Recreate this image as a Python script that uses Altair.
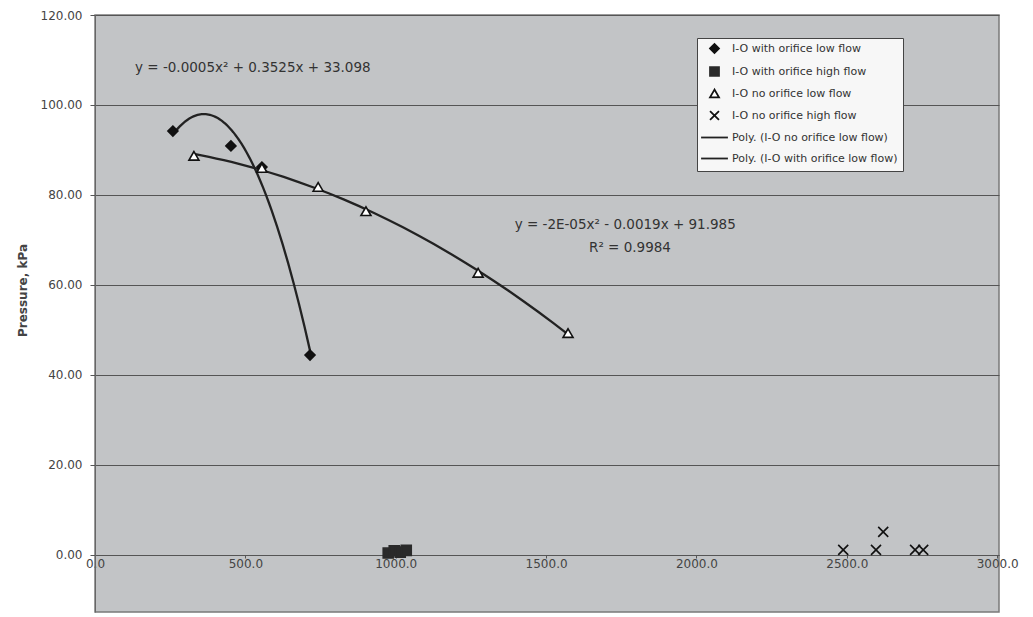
import altair as alt
import pandas as pd

# ---- data ----
series_names = [
    "I-O with orifice low flow",
    "I-O with orifice high flow",
    "I-O no orifice low flow",
    "I-O no orifice high flow",
    "Poly. (I-O no orifice low flow)",
    "Poly. (I-O with orifice low flow)",
]

wo_low_x = [259, 452, 555, 715]
wo_low_y = [94.2, 90.9, 86.2, 44.4]

wo_high_x = [975, 995, 1015, 1035]
wo_high_y = [0.4, 0.9, 0.6, 1.0]

no_low_x = [329, 555, 742, 901, 1274, 1573]
no_low_y = [88.7, 86.0, 81.8, 76.4, 62.7, 49.3]

no_high_x = [2488, 2597, 2621, 2727, 2754]
no_high_y = [1.1, 1.1, 5.1, 1.1, 1.1]

x_ticks = [0, 500, 1000, 1500, 2000, 2500, 3000]
y_ticks = [0, 20, 40, 60, 80, 100, 120]

eq_texts = ["y = -0.0005x\u00b2 + 0.3525x + 33.098",
            "y = -2E-05x\u00b2 - 0.0019x + 91.985",
            "R\u00b2 = 0.9984"]
eq_x = [133, 1763, 1779]
eq_y = [108.2, 73.3, 68.2]
eq_align = ["left", "center", "center"]

# ---- build table ----
rows = []
for name, xs, ys in [
    (series_names[0], wo_low_x, wo_low_y),
    (series_names[1], wo_high_x, wo_high_y),
    (series_names[2], no_low_x, no_low_y),
    (series_names[3], no_high_x, no_high_y),
]:
    for xv, yv in zip(xs, ys):
        rows.append({"series": name, "x": xv, "y": yv})
df = pd.DataFrame(rows)

ann = pd.DataFrame({"x": eq_x, "y": eq_y, "text": eq_texts, "align": eq_align})

FONT = "DejaVu Sans"

xscale = alt.Scale(domain=[0, 3006], nice=False, zero=False)
yscale = alt.Scale(domain=[-12.7, 120], nice=False, zero=False)

shape_range = [
    "diamond",
    "square",
    "triangle-up",
    "M-1,-1L1,1M-1,1L1,-1",
    "M-3,0H3M0,-0.85L0,-0.85M0,0.85L0,0.85",
    "M-3,0H3M0,-0.85L0,-0.85M0,0.85L0,0.85",
]
fill_range = ["#111111", "#2a2a2a", "#ffffff", "transparent", "transparent", "transparent"]
stroke_range = ["#111111", "#2a2a2a", "#111111", "#111111", "#222222", "#222222"]

legend = alt.Legend(
    title=None,
    orient="none",
    legendX=602,
    legendY=23,
    fillColor="#f7f7f7",
    strokeColor="#444444",
    padding=5,
    symbolOffset=7,
    rowPadding=6,
    labelOffset=12,
    labelFont=FONT,
    labelFontSize=11,
    labelColor="#333333",
    symbolSize=80,
    symbolStrokeWidth=1.8,
    labelLimit=300,
)

points = alt.Chart(df).mark_point(size=100, strokeWidth=1.6, opacity=1, fillOpacity=1).encode(
    x=alt.X("x:Q", scale=xscale,
            axis=alt.Axis(values=x_ticks, format=".1f", title=None, grid=False,
                          offset=-57, tickSize=3, domainColor="#555555",
                          tickColor="#555555", labelFont=FONT, labelFontSize=12,
                          labelColor="#444444", labelPadding=0, labelFlush=False)),
    y=alt.Y("y:Q", scale=yscale,
            axis=alt.Axis(values=y_ticks, format=".2f", title="Pressure, kPa",
                          grid=True, gridColor="#555555", gridWidth=1,
                          tickSize=5, tickColor="#555555", domainColor="#666666",
                          labelFont=FONT, labelFontSize=12, labelColor="#444444",
                          labelPadding=8, titleFont=FONT, titleFontSize=12,
                          titleFontWeight="bold", titleColor="#444444",
                          titleAngle=-90, titleX=-73, titleY=275,
                          titleAlign="center", titleBaseline="middle")),
    shape=alt.Shape("series:N", scale=alt.Scale(domain=series_names, range=shape_range), legend=legend),
    fill=alt.Fill("series:N", scale=alt.Scale(domain=series_names, range=fill_range), legend=legend),
    stroke=alt.Stroke("series:N", scale=alt.Scale(domain=series_names, range=stroke_range), legend=legend),
)

trend = alt.Chart(df).transform_filter(
    alt.FieldOneOfPredicate(field="series", oneOf=[series_names[0], series_names[2]])
).transform_regression(
    "x", "y", method="poly", order=2, groupby=["series"]
).mark_line(color="#222222", strokeWidth=2.3).encode(
    x=alt.X("x:Q", scale=xscale),
    y=alt.Y("y:Q", scale=yscale),
    detail="series:N",
)

text_left = alt.Chart(ann).transform_filter(alt.datum.align == "left").mark_text(
    align="left", baseline="middle", font=FONT, fontSize=13.5, color="#333333"
).encode(x=alt.X("x:Q", scale=xscale), y=alt.Y("y:Q", scale=yscale), text="text:N")

text_center = alt.Chart(ann).transform_filter(alt.datum.align == "center").mark_text(
    align="center", baseline="middle", font=FONT, fontSize=13.5, color="#333333"
).encode(x=alt.X("x:Q", scale=xscale), y=alt.Y("y:Q", scale=yscale), text="text:N")

chart = alt.layer(trend, points, text_left, text_center).properties(
    width=904,
    height=597,
    autosize=alt.AutoSizeParams(type="none"),
    padding={"left": 87, "top": 7, "right": 20, "bottom": 5},
    background="#ffffff",
).configure_view(
    fill="#c2c4c6",
    stroke="#7a7a7a",
    strokeWidth=1.5,
)

chart.save("out.html", embed_options={"renderer": "svg", "actions": False})
